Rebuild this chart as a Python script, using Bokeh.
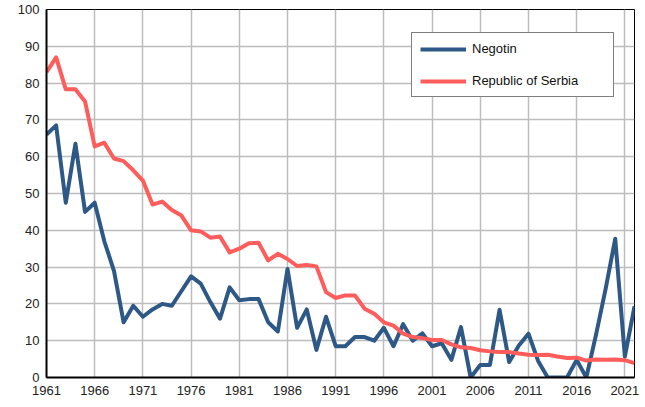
from bokeh.plotting import figure
from bokeh.models import FixedTicker, Range1d, Legend, LegendItem
from bokeh.embed import file_html
from bokeh.resources import INLINE

years = list(range(1961, 2023))
negotin = [66, 68.5, 47.5, 63.5, 45, 47.5, 37, 29, 15, 19.5,
           16.5, 18.5, 20, 19.5, 23.5, 27.5, 25.5, 20.5, 16, 24.5,
           21, 21.3, 21.3, 15, 12.5, 29.5, 13.5, 18.5, 7.5, 16.5,
           8.5, 8.5, 11, 11, 10, 13.5, 8.5, 14.5, 10, 12,
           8.5, 9.3, 4.8, 13.7, 0, 3.4, 3.4, 18.4, 4.2, 8.7,
           11.9, 4.5, 0, 0, 0, 4.8, 0, 11.5, 24, 37.7,
           5.7, 19.3]
serbia = [83, 87, 78.3, 78.3, 75, 62.8, 63.8, 59.5, 58.8, 56.3,
          53.5, 47, 47.8, 45.5, 44, 40, 39.7, 38, 38.3, 34,
          35, 36.5, 36.6, 31.8, 33.6, 32.2, 30.3, 30.6, 30.2, 23.2,
          21.6, 22.3, 22.3, 18.7, 17.3, 15, 14.1, 11.9, 11, 10.7,
          10.2, 10.2, 9, 8.2, 8, 7.4, 7.1, 6.9, 6.9, 6.5,
          6.2, 6.1, 6.2, 5.7, 5.3, 5.4, 4.6, 4.9, 4.8, 4.9,
          4.7, 3.9]
x_ticks = list(range(1961, 2022, 5))
y_ticks = list(range(0, 101, 10))
series_names = ["Negotin", "Republic of Serbia"]
colors = ["#2e5987", "#ff5c5c"]

FONT = "Liberation Sans"

p = figure(width=642, height=403, output_backend="svg", toolbar_location=None,
           x_range=Range1d(1961, 2022), y_range=Range1d(0, 100),
           min_border_left=46, min_border_right=8, min_border_top=9, min_border_bottom=26)

r1 = p.line(years, negotin, line_color=colors[0], line_width=4, line_join="round")
r2 = p.line(years, serbia, line_color=colors[1], line_width=4, line_join="round")

p.xaxis.ticker = FixedTicker(ticks=x_ticks)
p.yaxis.ticker = FixedTicker(ticks=y_ticks)
for ax in (p.xaxis[0], p.yaxis[0]):
    ax.major_tick_out = 0
    ax.major_tick_in = 0
    ax.minor_tick_out = 0
    ax.minor_tick_in = 0
    ax.axis_line_color = "black"
    ax.axis_line_width = 2
    ax.major_label_text_font = FONT
    ax.major_label_text_font_size = "13px"
    ax.major_label_text_color = "#222222"
p.xaxis.major_label_standoff = 8
p.yaxis.major_label_standoff = 7

p.xgrid.ticker = FixedTicker(ticks=x_ticks)
p.ygrid.ticker = FixedTicker(ticks=y_ticks)
p.grid.grid_line_color = "#bdbdbd"
p.grid.grid_line_width = 1.5
p.outline_line_color = "black"
p.outline_line_width = 1
p.outline_line_alpha = 1

legend = Legend(items=[LegendItem(label=series_names[0], renderers=[r1]),
                       LegendItem(label=series_names[1], renderers=[r2])],
                location=(365, 280))
legend.margin = 0
legend.padding = 8
legend.spacing = 17
legend.glyph_height = 12
legend.label_height = 12
legend.glyph_width = 46
legend.label_standoff = 6
legend.label_width = 133
legend.label_text_font = FONT
legend.label_text_font_size = "13px"
legend.label_text_color = "#111111"
legend.border_line_color = "black"
legend.border_line_width = 1
legend.background_fill_color = "white"
legend.background_fill_alpha = 1
p.add_layout(legend)

open("out.html", "w").write(file_html(p, INLINE))
